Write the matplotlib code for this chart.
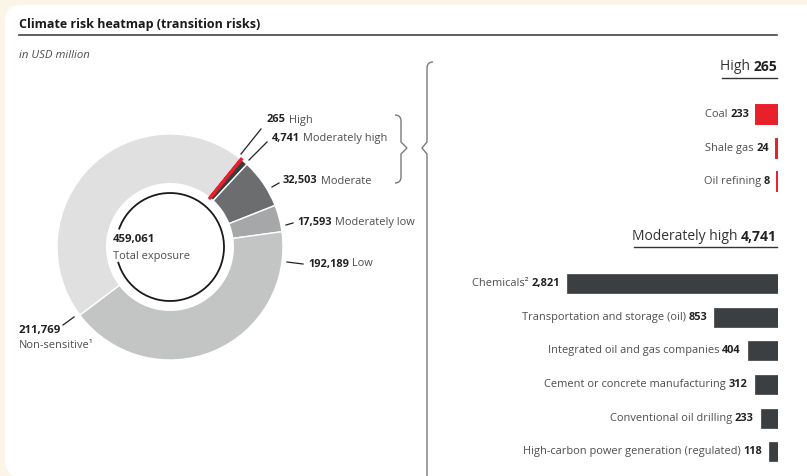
import matplotlib
matplotlib.use("Agg")
import matplotlib.pyplot as plt
from matplotlib.patches import FancyBboxPatch, Arc, PathPatch
from matplotlib.path import Path

# ---- data ----
risk_labels = ["High", "Moderately high", "Moderate", "Moderately low", "Low", "Non-sensitive\u00b9"]
risk_values = [265, 4741, 32503, 17593, 192189, 211769]
risk_colors = ["#E8202A", "#3B3E41", "#6B6D6F", "#A5A7A8", "#C3C4C4", "#E0E0E0"]
total_exposure = 459061

high_sectors = ["Coal", "Shale gas", "Oil refining"]
high_values = [233, 24, 8]
high_total = 265

mh_sectors = ["Chemicals\u00b2", "Transportation and storage (oil)",
              "Integrated oil and gas companies", "Cement or concrete manufacturing",
              "Conventional oil drilling", "High-carbon power generation (regulated)"]
mh_values = [2821, 853, 404, 312, 233, 118]
mh_total = 4741

W, H = 807, 476
plt.rcParams['font.family'] = ['Open Sans', 'DejaVu Sans']
LBL = "#4d4d4d"
NUM = "#222222"
FS = 7.9

fig = plt.figure(figsize=(W / 100, H / 100), dpi=100)
fig.patch.set_facecolor("#FBF5E8")


def fr(x0, y0, w, h):
    # pixel box (top-left origin) -> figure fraction
    return [x0 / W, 1 - (y0 + h) / H, w / W, h / H]


bg = fig.add_axes([0, 0, 1, 1])
bg.set_xlim(0, W)
bg.set_ylim(H, 0)
bg.axis("off")
bg.add_patch(FancyBboxPatch((5, 5), 830, 472, boxstyle="round,pad=0,rounding_size=16",
                            fc="white", ec="none", zorder=0))

bg.text(19, 28, "Climate risk heatmap (transition risks)", fontsize=9, fontweight="bold",
        color="#1a1a1a", va="baseline")
bg.plot([19, 777], [35, 35], color="#444444", lw=1.2)
bg.text(19, 56, "in USD million", fontsize=8.2, style="italic", color=LBL, va="center")

# ---- donut ----
cx, cy, R = 170, 247, 113
ax = fig.add_axes(fr(cx - R, cy - R, 2 * R, 2 * R))
wedges, _ = ax.pie(risk_values, colors=risk_colors, startangle=51, counterclock=False,
                   radius=1, wedgeprops=dict(width=0.44, edgecolor="white", linewidth=1.0))
ax.set_xlim(-1, 1)
ax.set_ylim(-1, 1)
ax.set_aspect("equal")
ax.axis("off")
wedges[0].set_edgecolor(risk_colors[0])
wedges[0].set_linewidth(2.2)
wedges[0].set_zorder(5)
ax.add_patch(Arc((0, 0), 2 * 54 / R, 2 * 54 / R, theta1=-164, theta2=161, color="#1a1a1a", lw=1.3))
ax.text(-0.505, 0.07, f"{total_exposure:,}", fontsize=8.2, fontweight="bold", color=NUM,
        va="center", ha="left")
ax.text(-0.505, -0.08, "Total exposure", fontsize=FS, color=LBL, va="center", ha="left")

# leader lines and labels
leaders = [((241, 154), (261, 129)), ((249, 160), (267, 142)), ((272, 187), (279, 183)),
           ((286, 225), (293, 223)), ((287, 262), (303, 264)), ((63, 325), (74, 317))]
label_pos = [(267, 120), (272, 138), (283, 181), (297, 222), (308, 264)]
for (p0, p1) in leaders:
    bg.plot([p0[0], p1[0]], [p0[1], p1[1]], color="#222222", lw=0.9)
for i, (x, y) in enumerate(label_pos):
    t = bg.text(x, y, f"{risk_values[i]:,}", fontsize=FS, fontweight="bold", color=NUM, va="center")
    bg.annotate(" " + risk_labels[i], xy=(1, 0.5), xycoords=t, va="center", ha="left",
                fontsize=FS, color=LBL)
bg.text(19, 330, f"{risk_values[5]:,}", fontsize=8.2, fontweight="bold", color=NUM, va="center")
bg.text(19, 346, risk_labels[5], fontsize=FS, color=LBL, va="center")


# braces
def brace(pts, codes):
    bg.add_patch(PathPatch(Path(pts, codes), fc="none", ec="#7a7a7a", lw=1.0))


M, L, C = Path.MOVETO, Path.LINETO, Path.CURVE3
brace([(395, 115), (401, 115), (401, 121), (401, 142), (407, 148), (401, 154),
       (401, 177), (401, 183), (395, 183)],
      [M, C, C, L, L, L, L, C, C])
brace([(433, 62), (427, 62), (427, 68), (427, 142), (422, 148), (427, 154), (427, 480)],
      [M, C, C, L, L, L, L])

# ---- bar groups ----
def bar_group(top, step, values, names, px_per_unit, color, title, title_y, min_lw):
    n = len(values)
    width_px = 330
    a = fig.add_axes(fr(778 - width_px, top, width_px, n * step))
    a.barh(range(n), values, height=19 / step, color=color, edgecolor=color, linewidth=min_lw)
    a.set_xlim(width_px / px_per_unit, 0)
    a.set_ylim(n - 0.5, -0.5)
    a.axis("off")
    for i, (v, nm) in enumerate(zip(values, names)):
        t = a.annotate(f"{v:,}", xy=(v, i), xytext=(-5, 0), textcoords="offset points",
                       ha="right", va="center", fontsize=FS, fontweight="bold", color=NUM)
        a.annotate(nm + " ", xy=(0, 0.5), xycoords=t, ha="right", va="center",
                   fontsize=FS, color=LBL)
    t1 = bg.text(777, title_y, f"{title[1]:,}", fontsize=10, fontweight="bold", color=NUM,
                 ha="right", va="center")
    t2 = bg.annotate(title[0] + " ", xy=(0, 0.5), xycoords=t1, ha="right", va="center",
                     fontsize=10, color="#333333")
    return t2


h_title = bar_group(97.8, 33.5, high_values, high_sectors, 22 / 233, "#E8202A",
                    ("High", high_total), 67, 1.4)
m_title = bar_group(266.6, 33.7, mh_values, mh_sectors, 211 / 2821, "#3C3F42",
                    ("Moderately high", mh_total), 237, 0.5)

fig.canvas.draw()
inv = bg.transData.inverted()
for t, uy in [(h_title, 77.5), (m_title, 247)]:
    bb = t.get_window_extent()
    x0 = inv.transform((bb.x0, bb.y0))[0]
    bg.plot([x0 + 2, 777], [uy, uy], color="#333333", lw=1.0)

fig.savefig("out.png", dpi=100, facecolor=fig.get_facecolor())
